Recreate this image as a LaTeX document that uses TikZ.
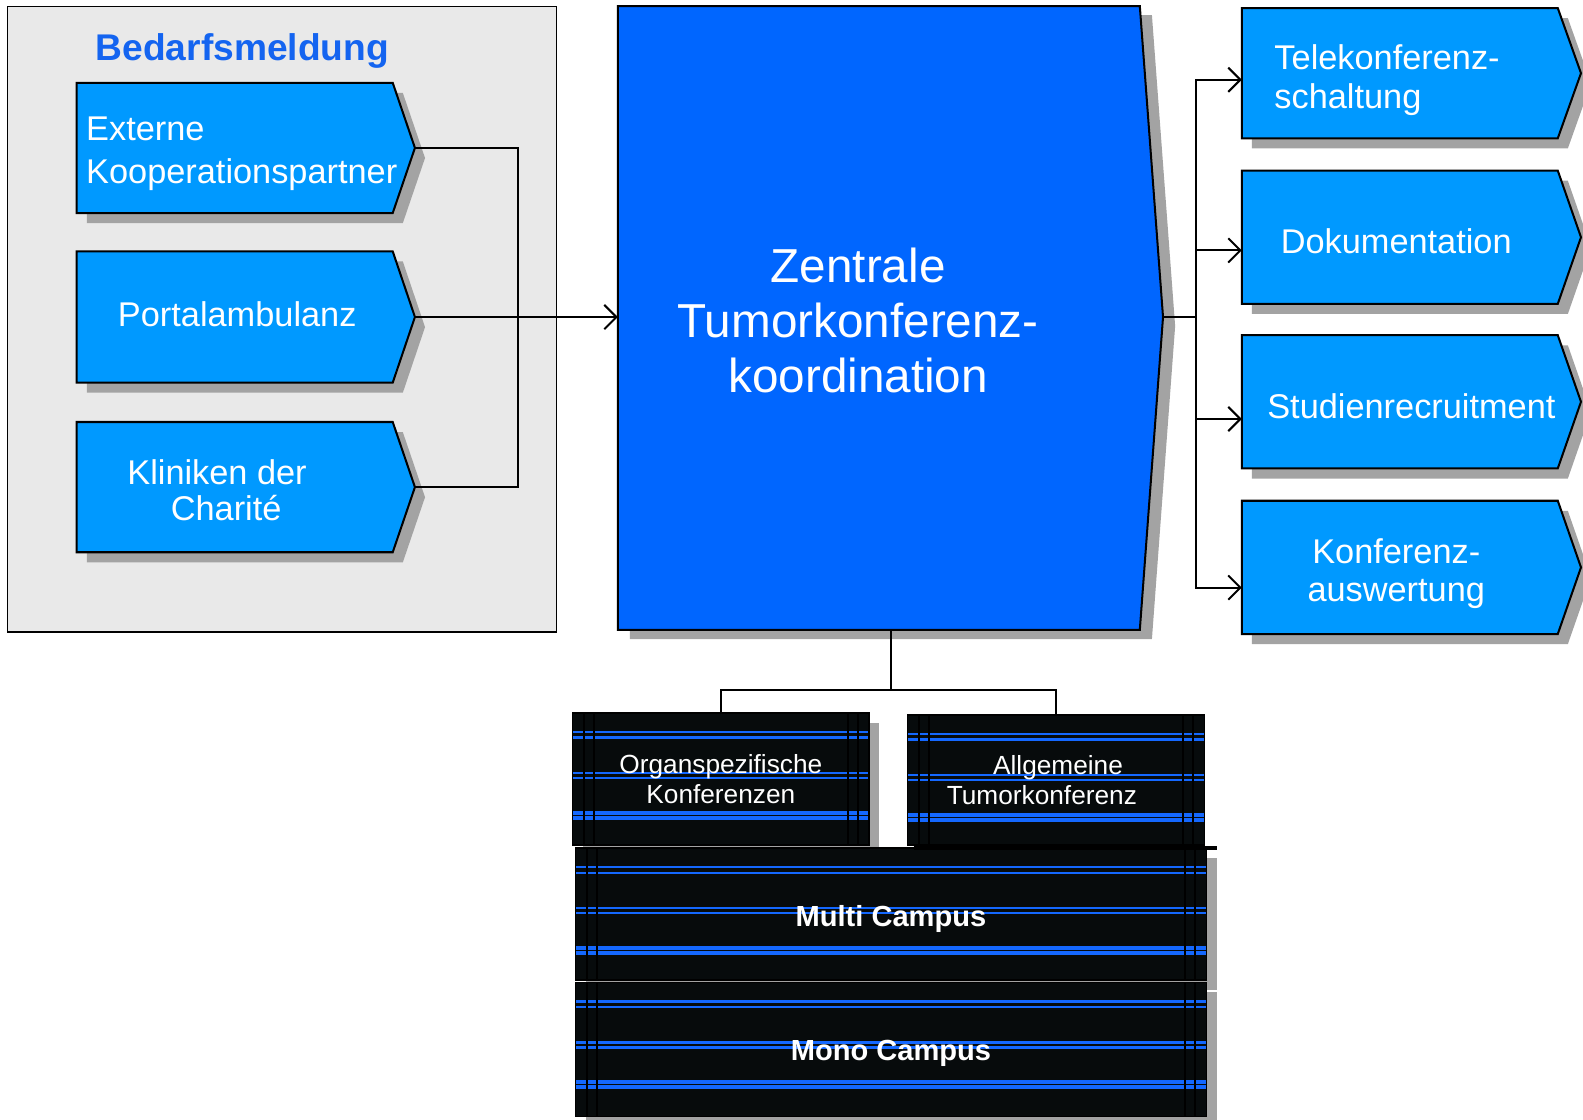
\documentclass[tikz,border=0pt]{standalone}
\usepackage{fontspec}
\setmainfont{Liberation Sans}
\usetikzlibrary{arrows.meta,shadows}
\definecolor{panelgray}{HTML}{E9E9E9}
\definecolor{lightblue}{HTML}{0099FF}
\definecolor{mainblue}{HTML}{0066FF}
\definecolor{titleblue}{HTML}{1464F0}
\definecolor{shadowgray}{HTML}{A3A3A3}
\definecolor{darkfill}{HTML}{070B0C}
\definecolor{stripeblue}{HTML}{1468FF}
\tikzset{
  boxline/.style={draw=black, line width=1pt, line join=miter},
  conn/.style={draw=black, line width=1pt},
  arr/.style={conn, -{Straight Barb[length=6pt,width=12pt]}},
  lbl/.style={text=white, inner sep=0pt, font=\fontsize{17}{21.2}\selectfont},
  stripes/.style={path picture={
    \foreach \o/\w in {19/1.1,24.5/1.1,59.5/1.1,64.5/1.1,99/1.9,104/1.9}{
      \draw[stripeblue,line width=\w pt] ([yshift=-\o*0.5pt]path picture bounding box.north west) -- ([yshift=-\o*0.5pt]path picture bounding box.north east);}
    \foreach \o in {11,21}{
      \draw[black,line width=1pt] ([xshift=\o*0.5pt]path picture bounding box.north west) -- ([xshift=\o*0.5pt]path picture bounding box.south west);
      \draw[black,line width=1pt] ([xshift=-\o*0.5pt]path picture bounding box.north east) -- ([xshift=-\o*0.5pt]path picture bounding box.south east);}
  }},
  darkbox/.style={draw=black, line width=0.8pt, fill=darkfill, text=white, inner sep=0pt,
    align=center, font=\fontsize{13}{15}\selectfont, stripes},
  dshadow/.style={drop shadow={shadow xshift=5pt,shadow yshift=-5pt,fill=shadowgray,opacity=1}}
}
\newcommand\signpost[7]{%
  \fill[shadowgray,shift={(10,10)}] (#2,#3) -- (#4,#3) -- (#5,{(#3+#6)/2}) -- (#4,#6) -- (#2,#6) -- cycle;
  \draw[boxline,fill=#7] (#2,#3) -- (#4,#3) -- (#5,{(#3+#6)/2}) -- (#4,#6) -- (#2,#6) -- cycle;
  \coordinate (#1) at (#5,{(#3+#6)/2});}
\begin{document}
\begin{tikzpicture}[x=0.5pt,y=-0.5pt]
\path[use as bounding box] (0,0) rectangle (1568,1109);
% left panel
\draw[fill=panelgray, line width=0.5pt] (7,6) rectangle (551,626);
\node[font=\bfseries\fontsize{18.4}{22}\selectfont, text=titleblue, inner sep=0pt] (title) at (240,50.5) {Bedarfsmeldung};
\signpost{ext}{76}{82}{389}{411}{211}{lightblue}
\signpost{por}{76}{249}{389}{411}{379}{lightblue}
\signpost{kli}{76}{418}{389}{411}{547}{lightblue}
\node[lbl, align=left, anchor=west] (t-ext) at (85,152.5) {Externe\\Kooperationspartner};
\node[lbl] (t-por) at (235,311) {Portalambulanz};
\node[lbl, align=center, font=\fontsize{17}{17.5}\selectfont] (t-kli) at (215,485.5) {Kliniken der\\\hspace*{9pt}Charité};
% main box
\fill[shadowgray,shift={(12,9)}] (612,6) -- (1129,6) -- (1152,314) -- (1129,624) -- (612,624) -- cycle;
\draw[boxline,fill=mainblue] (612,6) -- (1129,6) -- (1152,314) -- (1129,624) -- (612,624) -- cycle;
\coordinate (mw) at (612,314);
\coordinate (mt) at (1152,314);
\coordinate (mb) at (883,624);
\node[text=white, inner sep=0pt, align=center, font=\fontsize{23.6}{27.25}\selectfont] (t-main) at (850,317.5) {Zentrale\\Tumorkonferenz-\\koordination};
% right boxes
\signpost{tel}{1230}{8}{1543}{1566}{137}{lightblue}
\signpost{dok}{1230}{169}{1543}{1566}{301}{lightblue}
\signpost{stu}{1230}{332}{1543}{1566}{464}{lightblue}
\signpost{kon}{1230}{496}{1543}{1566}{628}{lightblue}
\node[lbl, align=left, anchor=west, font=\fontsize{17}{19}\selectfont] (t-tel) at (1262,79.5) {Telekonferenz-\\schaltung};
\node[lbl] (t-dok) at (1383,239) {Dokumentation};
\node[lbl] (t-stu) at (1398,402) {Studienrecruitment};
\node[lbl, align=center, font=\fontsize{17}{19}\selectfont] (t-kon) at (1383,568.5) {Konferenz-\\auswertung};
\coordinate (tel-in) at (1230,79);
\coordinate (dok-in) at (1230,248);
\coordinate (stu-in) at (1230,415);
\coordinate (kon-in) at (1230,582);
% left connectors
\coordinate (lj) at (513,314);
\draw[conn] (ext) -| (lj);
\draw[conn] (kli) -| (lj);
\draw[arr] (por) -- (mw);
% right connectors
\coordinate (rj) at (1185,314);
\draw[conn] (mt) -- (rj);
\draw[arr] (rj) |- (tel-in);
\draw[arr] (rj) |- (dok-in);
\draw[arr] (rj) |- (stu-in);
\draw[arr] (rj) |- (kon-in);
% bottom boxes
\node[darkbox, dshadow, minimum width=147pt, minimum height=65.5pt] (org) at (714,771.5) {Organspezifische\\Konferenzen};
\node[darkbox, minimum width=147pt, minimum height=64.5pt] (allg) at (1046,772.5) {\hspace*{2pt}Allgemeine\\Tumorkonferenz\hspace*{14pt}};
\node[darkbox, dshadow, minimum width=312.5pt, minimum height=65.5pt, font=\bfseries\fontsize{14.4}{17}\selectfont, text depth=0pt] (multi) at (882.5,905.5) {\raisebox{-1.5pt}{Multi Campus}};
\node[darkbox, dshadow, minimum width=312.5pt, minimum height=66.5pt, font=\bfseries\fontsize{14.4}{17}\selectfont, text depth=0pt] (mono) at (882.5,1039.5) {\raisebox{-0.5pt}{Mono Campus}};
\draw[line width=2pt] (905,840) -- (1205,840);
% bottom connectors
\coordinate (bj) at (883,683);
\draw[conn] (mb) -- (bj);
\draw[conn] (bj) -| (org.north);
\draw[conn] (bj) -| (allg.north);
\end{tikzpicture}
\end{document}
